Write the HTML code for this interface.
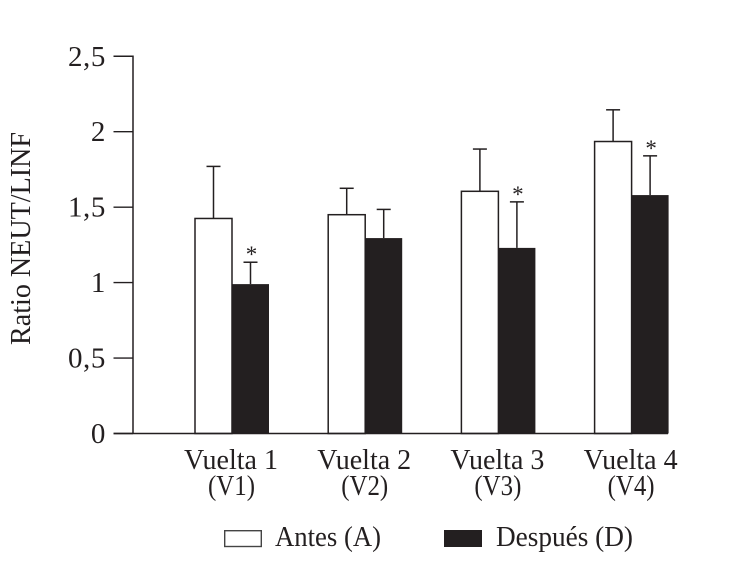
<!DOCTYPE html>
<html lang="es">
<head>
<meta charset="utf-8">
<title>Ratio NEUT/LINF</title>
<style>
html,body{margin:0;padding:0;background:#fff;}
svg{display:block;}
text{font-family:"Liberation Serif",serif;fill:#231f20;}
</style>
</head>
<body>
<svg id="chart" width="730" height="582" viewBox="0 0 730 582" xmlns="http://www.w3.org/2000/svg"></svg>
<script>
const categories = ['Vuelta 1', 'Vuelta 2', 'Vuelta 3', 'Vuelta 4'];
const categoryCodes = ['(V1)', '(V2)', '(V3)', '(V4)'];
const antesValues = [1.425, 1.45, 1.605, 1.935];
const antesErrors = [0.345, 0.175, 0.28, 0.21];
const despuesValues = [0.99, 1.295, 1.23, 1.58];
const despuesErrors = [0.145, 0.19, 0.305, 0.26];
const significant = [true, false, true, true];
const yTicks = [0, 0.5, 1, 1.5, 2, 2.5];
const yTickLabels = ['0', '0,5', '1', '1,5', '2', '2,5'];

const svg = document.getElementById('chart');
const NS = 'http://www.w3.org/2000/svg';
const ink = '#231f20';
const y = v => 433.5 - v * 150.9;
const groupX = i => 195 + i * 133.2;
const barW = 37;

function add(tag, attrs, parent, text) {
  const el = document.createElementNS(NS, tag);
  for (const k in attrs) el.setAttribute(k, attrs[k]);
  if (text !== undefined) el.textContent = text;
  (parent || svg).appendChild(el);
  return el;
}

// Y axis
const yAxis = add('g', {});


add('line', {x1: 133, x2: 133, y1: y(2.5) - 0.7, y2: y(0), stroke: ink, 'stroke-width': 1.5}, yAxis);
yTicks.forEach((t, i) => {
  const tick = add('line', {x1: 113.5, x2: 133, y1: y(t), y2: y(t), stroke: ink, 'stroke-width': 1.4}, yAxis);
  
  
  const label = add('text', {x: 106, y: y(t) + 9.5, 'text-anchor': 'end', 'font-size': 29, 'letter-spacing': 0.6}, yAxis, yTickLabels[i]);
  
  
});

// Y axis title
const yTitle = add('text', {
  transform: 'translate(30,345) rotate(-90)', 'font-size': 28, textLength: 213, lengthAdjust: 'spacingAndGlyphs'
}, svg, 'Ratio NEUT/LINF');



// Bars
function drawError(x, val, err, parent) {
  const top = y(val + err);
  add('line', {x1: x, x2: x, y1: y(val), y2: top, stroke: ink, 'stroke-width': 1.5}, parent);
  add('line', {x1: x - 7, x2: x + 7, y1: top, y2: top, stroke: ink, 'stroke-width': 1.5}, parent);
}

categories.forEach((c, i) => {
  const gx = groupX(i);
  const g = add('g', {});
  
  

  drawError(gx + barW / 2, antesValues[i], antesErrors[i], g);
  const a = add('rect', {x: gx, y: y(antesValues[i]), width: barW, height: y(0) - y(antesValues[i]), fill: '#fff', stroke: ink, 'stroke-width': 1.5}, g);
  
  

  drawError(gx + barW * 1.5, despuesValues[i], despuesErrors[i], g);
  const d = add('rect', {x: gx + barW, y: y(despuesValues[i]), width: barW, height: y(0) - y(despuesValues[i]), fill: ink}, g);
  
  

  if (significant[i]) {
    const star = add('text', {x: gx + barW * 1.5 + 1, y: y(despuesValues[i] + despuesErrors[i]), 'text-anchor': 'middle', 'font-size': 23}, g, '*');
    
    
  }

  const l1 = add('text', {x: gx - 11, y: 469, 'font-size': 28, textLength: 94, lengthAdjust: 'spacingAndGlyphs'}, svg, c);
  
  
  const l2 = add('text', {x: gx + 13, y: 495, 'font-size': 28, textLength: 47, lengthAdjust: 'spacingAndGlyphs'}, svg, categoryCodes[i]);
  
  
});

// X axis
const xAxis = add('line', {x1: 113.5, x2: 668, y1: y(0), y2: y(0), stroke: ink, 'stroke-width': 1.6});



// Legend
const legendA = add('g', {});


add('rect', {x: 224.7, y: 530.7, width: 36.6, height: 15.8, fill: '#fff', stroke: '#444', 'stroke-width': 1.4}, legendA);
add('text', {x: 275, y: 546, 'font-size': 28, textLength: 106, lengthAdjust: 'spacingAndGlyphs'}, legendA, 'Antes (A)');

const legendD = add('g', {});


add('rect', {x: 444, y: 530, width: 38, height: 17, fill: ink}, legendD);
add('text', {x: 496, y: 546, 'font-size': 28, textLength: 137, lengthAdjust: 'spacingAndGlyphs'}, legendD, 'Después (D)');
</script>
</body>
</html>
